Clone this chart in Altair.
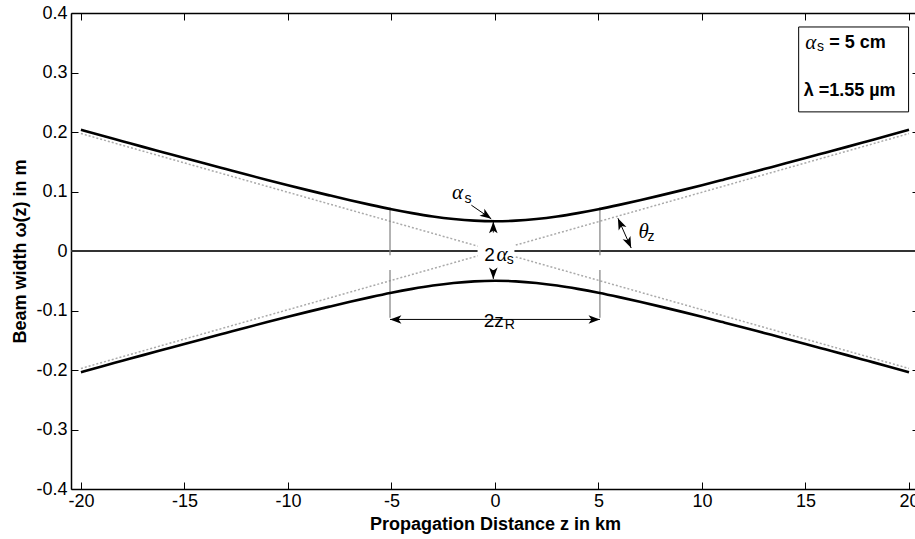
import altair as alt
import pandas as pd

# ---------------- data ----------------
z_km = list(range(-20, 21))
w_upper = [0.2036, 0.1940, 0.1845, 0.1750, 0.1656, 0.1562, 0.1469, 0.1377,
           0.1285, 0.1195, 0.1106, 0.1019, 0.0935, 0.0853, 0.0775, 0.0702,
           0.0637, 0.0581, 0.0538, 0.0510, 0.0500, 0.0510, 0.0538, 0.0581,
           0.0637, 0.0702, 0.0775, 0.0853, 0.0935, 0.1019, 0.1106, 0.1195,
           0.1285, 0.1377, 0.1469, 0.1562, 0.1656, 0.1750, 0.1845, 0.1940,
           0.2036]
w_lower = [-v for v in w_upper]

asym_z = [-20, 20]
asym_a = [0.1974, -0.1974]
asym_b = [-0.1974, 0.1974]

x_ticks = [-20, -15, -10, -5, 0, 5, 10, 15, 20]
y_ticks = [-0.4, -0.3, -0.2, -0.1, 0, 0.1, 0.2, 0.3, 0.4]

# annotation geometry (data units)
guide_x = [-5.07, -5.07, 5.07, 5.07]
guide_y1 = [0.073, -0.032, 0.073, -0.032]
guide_y2 = [-0.007, -0.112, -0.007, -0.112]

arrow_x1 = [-1.14, -0.08, -0.08, -5.07, 5.94]
arrow_y1 = [0.077, 0.031, -0.032, -0.115, 0.055]
arrow_x2 = [-0.18, -0.08, -0.08, 5.07, 6.58]
arrow_y2 = [0.054, 0.049, -0.047, -0.115, 0.005]

head_x = [-0.18, -0.08, -0.08, -5.07, 5.07, 6.58, 5.94]
head_y = [0.054, 0.049, -0.047, -0.115, -0.115, 0.005, 0.055]
head_angle = [125, 0, 180, 270, 90, 156, 336]

mask_x1 = [-0.84, -0.74]
mask_x2 = [0.94, 1.09]
mask_y1 = [-0.023, -0.137]
mask_y2 = [0.022, -0.093]

box_x1 = [14.67]
box_x2 = [19.98]
box_y1 = [0.2338]
box_y2 = [0.3765]

greek_txt = ["α", "α", "α", "θ"]
greek_x = [-1.81, 0.34, 15.25, 7.18]
greek_y = [0.098, -0.0067, 0.350, 0.0324]

sub_txt = ["s", "s", "R", "z", "s"]
sub_x = [-1.30, 0.74, 0.72, 7.54, 15.72]
sub_y = [0.087, -0.015, -0.124, 0.024, 0.343]

reg_txt = ["2", "2z"]
reg_x = [-0.26, -0.06]
reg_y = [-0.0067, -0.117]

bold_txt = ["= 5 cm", "λ =1.55 µm"]
bold_x = [16.15, 14.91]
bold_y = [0.350, 0.269]

# ---------------- chart ----------------
W, H = 844, 476
XDOM = [-20.48, 20.29]
YDOM = [-0.4, 0.4]
XS = alt.Scale(domain=XDOM, nice=False, zero=False)
YS = alt.Scale(domain=YDOM, nice=False, zero=False)
FONT = "Liberation Sans"


def X(f, axis=None):
    return alt.X(f, type="quantitative", scale=XS, axis=axis)


def Y(f, axis=None):
    return alt.Y(f, type="quantitative", scale=YS, axis=axis)


curves = pd.DataFrame({
    "z": z_km + z_km,
    "w": w_upper + w_lower,
    "s": ["upper"] * len(z_km) + ["lower"] * len(z_km),
})
asym = pd.DataFrame({
    "z": asym_z + asym_z,
    "w": asym_a + asym_b,
    "s": ["a"] * 2 + ["b"] * 2,
})
guides = pd.DataFrame({"x": guide_x, "y1": guide_y1, "y2": guide_y2})
arrows = pd.DataFrame({"x1": arrow_x1, "y1": arrow_y1, "x2": arrow_x2, "y2": arrow_y2})
heads = pd.DataFrame({"x": head_x, "y": head_y, "angle": head_angle})
masks = pd.DataFrame({"x1": mask_x1, "x2": mask_x2, "y1": mask_y1, "y2": mask_y2})
box = pd.DataFrame({"x1": box_x1, "x2": box_x2, "y1": box_y1, "y2": box_y2})
greek = pd.DataFrame({"t": greek_txt, "x": greek_x, "y": greek_y})
subs = pd.DataFrame({"t": sub_txt, "x": sub_x, "y": sub_y})
regs = pd.DataFrame({"t": reg_txt, "x": reg_x, "y": reg_y})
bolds = pd.DataFrame({"t": bold_txt, "x": bold_x, "y": bold_y})
dummy = pd.DataFrame({"dx": x_ticks, "dy": y_ticks})

# ---- axes layers ----
x_main = alt.Axis(orient="bottom", values=x_ticks, labelExpr="'' + datum.value",
                  ticks=False, domain=True, domainColor="black", domainWidth=1.5,
                  labelFont=FONT, labelFontSize=18, labelColor="black", labelPadding=3,
                  title="Propagation Distance z in km", titleFont=FONT, titleFontSize=18,
                  titleFontWeight="bold", titleColor="black", titleX=424, titleY=40,
                  titleBaseline="alphabetic", grid=False)
y_main = alt.Axis(orient="left", values=y_ticks, labelExpr="'' + datum.value",
                  ticks=False, domain=True, domainColor="black", domainWidth=1.5,
                  labelFont=FONT, labelFontSize=18, labelColor="black", labelPadding=4,
                  title="Beam width ω(z) in m", titleFont=FONT, titleFontSize=18,
                  titleFontWeight="bold", titleColor="black", titleX=-46, titleY=H / 2,
                  titleAngle=270, titleBaseline="alphabetic", grid=False)
x_top_border = alt.Axis(orient="top", values=x_ticks, ticks=False, labels=False,
                        domain=True, domainColor="black", domainWidth=1.5,
                        title=None, grid=False)
y_left_in = alt.Axis(orient="right", offset=-W, values=y_ticks, ticks=True, tickSize=7,
                     tickColor="black", tickWidth=1, labels=False, domain=False,
                     title=None, grid=False)
x_top_in = alt.Axis(orient="bottom", offset=-H, values=x_ticks, ticks=True, tickSize=7,
                    tickColor="black", tickWidth=1, labels=False, domain=False,
                    title=None, grid=False)
y_right_in = alt.Axis(orient="left", offset=-W, values=y_ticks, ticks=True, tickSize=3,
                      tickColor="black", tickWidth=1, labels=False, domain=False,
                      title=None, grid=False)
x_bot_in = alt.Axis(orient="top", offset=-H, values=x_ticks, ticks=True, tickSize=7,
                    tickColor="black", tickWidth=1, labels=False, domain=False,
                    title=None, grid=False)

ax1 = alt.Chart(dummy).mark_point(opacity=0).encode(x=X("dx", x_main), y=Y("dy", y_main))
ax2 = alt.Chart(dummy).mark_point(opacity=0).encode(x=X("dx", x_top_border), y=Y("dy", y_left_in))
ax3 = alt.Chart(dummy).mark_point(opacity=0).encode(x=X("dx", x_top_in), y=Y("dy", y_right_in))
ax4 = alt.Chart(dummy).mark_point(opacity=0).encode(x=X("dx", x_bot_in), y=Y("dy"))

# ---- data layers ----
zero_line = alt.Chart(dummy).mark_rule(color="#333333", strokeWidth=1).encode(
    y=alt.datum(0, scale=YS, type="quantitative", axis=None))

asym_layer = alt.Chart(asym).mark_line(color="#aaaaaa", strokeWidth=1.5,
                                       strokeDash=[2, 2]).encode(
    x=X("z"), y=Y("w"), detail="s:N")

curve_layer = alt.Chart(curves).mark_line(color="black", strokeWidth=2.6,
                                          interpolate="monotone").encode(
    x=X("z"), y=Y("w"), detail="s:N")

guide_layer = alt.Chart(guides).mark_rule(color="#808080", strokeWidth=1.2).encode(
    x=X("x"), y=Y("y1"), y2="y2")

arrow_layer = alt.Chart(arrows).mark_rule(color="black", strokeWidth=1).encode(
    x=X("x1"), y=Y("y1"), x2="x2", y2="y2")

ARROW = "M0,0L-0.45,1.2L0,0.9L0.45,1.2Z"
head_layer = alt.Chart(heads).mark_point(shape=ARROW, filled=True, color="black",
                                         size=360, opacity=1, strokeWidth=0).encode(
    x=X("x"), y=Y("y"), angle=alt.Angle("angle:Q", scale=None))

mask_layer = alt.Chart(masks).mark_rect(fill="white").encode(
    x=X("x1"), x2="x2", y=Y("y1"), y2="y2")

box_layer = alt.Chart(box).mark_rect(fill="white", stroke="black", strokeWidth=1).encode(
    x=X("x1"), x2="x2", y=Y("y1"), y2="y2")

greek_layer = alt.Chart(greek).mark_text(font="Liberation Serif", fontStyle="italic",
                                         fontSize=21, color="black", align="center",
                                         baseline="middle").encode(
    x=X("x"), y=Y("y"), text="t:N")
sub_layer = alt.Chart(subs).mark_text(font=FONT, fontSize=14, color="black",
                                      align="center", baseline="middle").encode(
    x=X("x"), y=Y("y"), text="t:N")
reg_layer = alt.Chart(regs).mark_text(font=FONT, fontSize=19, color="black",
                                      align="center", baseline="middle").encode(
    x=X("x"), y=Y("y"), text="t:N")
bold_layer = alt.Chart(bolds).mark_text(font=FONT, fontSize=18, fontWeight="bold",
                                        color="black", align="left",
                                        baseline="middle").encode(
    x=X("x"), y=Y("y"), text="t:N")

chart = alt.layer(
    ax1, ax2, ax3, ax4,
    zero_line, asym_layer, guide_layer, curve_layer,
    mask_layer, arrow_layer, head_layer,
    box_layer, greek_layer, sub_layer, reg_layer, bold_layer,
).resolve_axis(x="independent", y="independent").properties(
    width=W, height=H,
    autosize=alt.AutoSizeParams(type="none"),
    padding={"left": 71, "top": 13, "right": 0, "bottom": 50},
    background="white",
).configure_view(stroke=None).configure(font=FONT)

chart.save("out.html", embed_options={"renderer": "svg", "actions": False})
